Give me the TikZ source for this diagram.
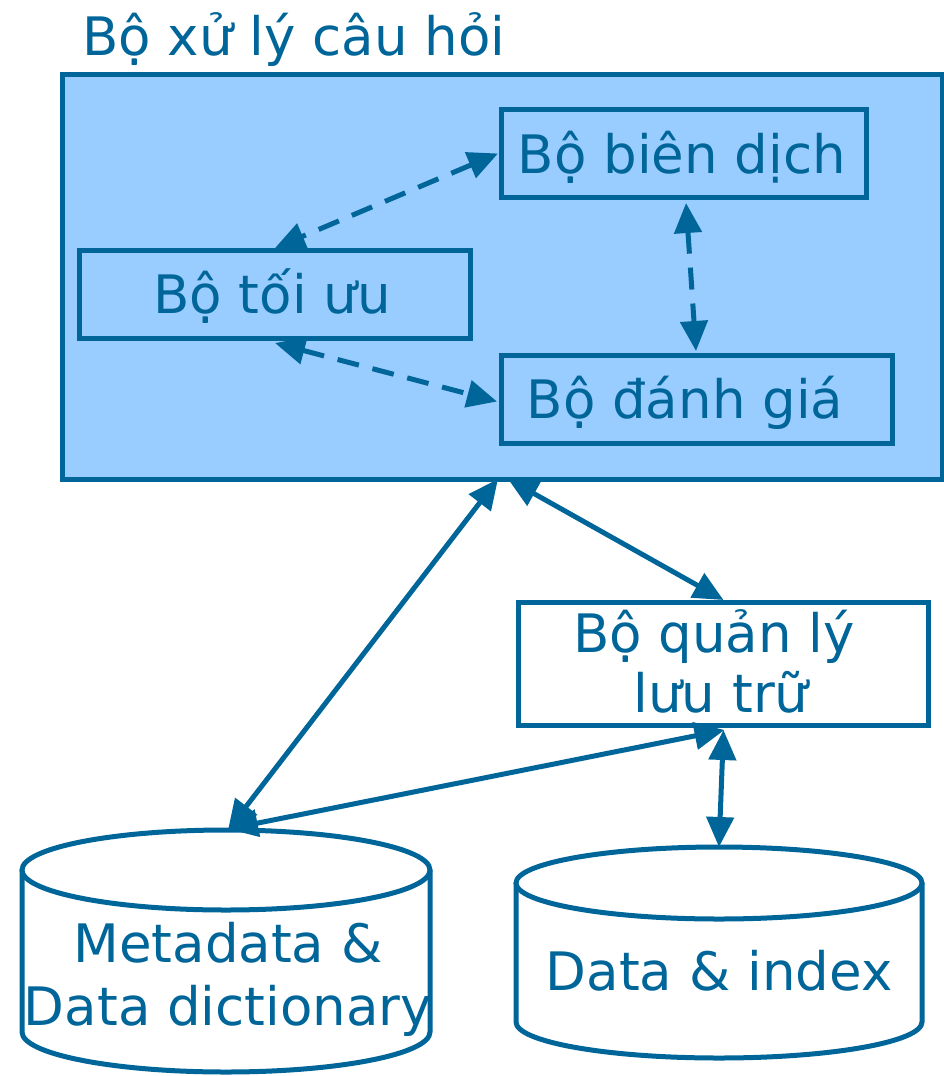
\documentclass[tikz,border=0pt]{standalone}
\usepackage{fontspec}
\setmainfont{DejaVu Sans}
\usetikzlibrary{arrows.meta,calc}
\definecolor{dblue}{RGB}{0,102,153}
\definecolor{lblue}{RGB}{153,204,255}
\tikzset{
  lbl/.style={text=dblue,font=\fontsize{53}{64}\selectfont},
  boxn/.style={draw=dblue,line width=5pt,inner sep=0pt,lbl},
  conn/.style={draw=dblue,line width=5pt,{Triangle[length=30pt,width=27pt]}-{Triangle[length=30pt,width=27pt]}},
  dconn/.style={conn,dash pattern=on 22pt off 14pt},
  cyl/.style={draw=dblue,line width=5pt,fill=white}
}
\begin{document}
\begin{tikzpicture}[x=1pt,y=-1pt]
\useasboundingbox (0,0) rectangle (944,1076);
% main box
\node[boxn,fill=lblue,minimum width=880pt,minimum height=405pt,anchor=north west] (main) at (60,72) {};
\node[lbl,anchor=base west,inner sep=0pt] (title) at (82,55) {Bộ xử lý câu hỏi};
% inner boxes
\node[boxn,fill=lblue,minimum width=365pt,minimum height=88pt,anchor=north west] (bd) at (499,107) {};
\node[lbl,anchor=base,inner sep=0pt] (bdt) at (682,173) {Bộ biên dịch};
\node[boxn,fill=lblue,minimum width=391pt,minimum height=88pt,anchor=north west] (tu) at (77,248) {};
\node[lbl,anchor=base,inner sep=0pt] (tut) at (272,313) {Bộ tối ưu};
\node[boxn,fill=lblue,minimum width=391pt,minimum height=88pt,anchor=north west] (dg) at (499,353) {};
\node[lbl,anchor=base,inner sep=0pt] (dgt) at (685,418) {Bộ đánh giá};
% storage manager
\node[boxn,fill=white,minimum width=410pt,minimum height=123pt,anchor=north west] (ql) at (516,600) {};
\node[lbl,anchor=base,inner sep=0pt] (qlt1) at (714,652) {Bộ quản lý };
\node[lbl,anchor=base,inner sep=0pt] (qlt2) at (721,712) {lưu trữ};
% cylinders
\draw[cyl] (22,870) -- (22,1032) arc[start angle=180,end angle=0,x radius=204,y radius=40] -- (430,870);
\draw[cyl] (226,870) ellipse[x radius=204,y radius=40];
\coordinate (md) at (228,830);
\node[lbl,anchor=base,inner sep=0pt] (mdt1) at (228,962) {Metadata \&};
\node[lbl,anchor=base,inner sep=0pt] (mdt2) at (228,1025) {Data dictionary};
\draw[cyl] (516,883) -- (516,1022) arc[start angle=180,end angle=0,x radius=203,y radius=36] -- (922,883);
\draw[cyl] (719,883) ellipse[x radius=203,y radius=36];
\coordinate (di) at (719,847);
\node[lbl,anchor=base,inner sep=0pt] (dit) at (719,990) {Data \& index};
% connectors
\draw[dconn] ($(bd.west)+(-1,0)$) -- (tu.north);
\draw[dconn] ($(bd.south)+(2,3)$) -- ($(dg.north)+(-1,-2)$);
\draw[dconn] ($(tu.south)+(0,2)$) -- ($(dg.west)+(-2,2)$);
\coordinate (ms1) at (498,479);
\coordinate (ms2) at (508,479);
\draw[conn] (ms1) -- (md);
\draw[conn] (ms2) -- (ql.north);
\draw[conn] ($(ql.south)+(1,2)$) -- ($(md)+(0,-1)$);
\draw[conn] ($(ql.south)+(0,2)$) -- (di);
\end{tikzpicture}
\end{document}
